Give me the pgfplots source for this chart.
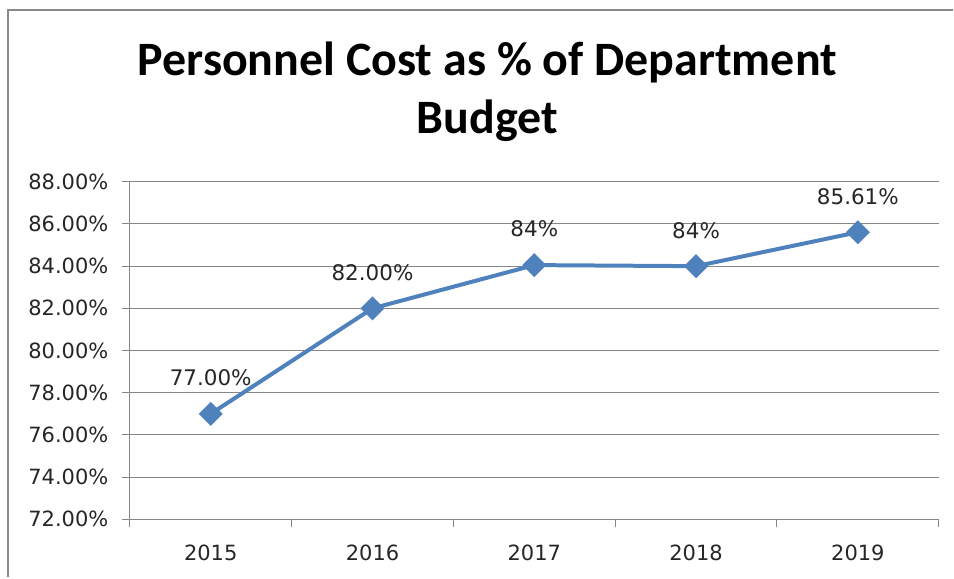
\documentclass[border=0pt]{standalone}
\usepackage{pgfplots}
\pgfplotsset{compat=1.18}
\usepackage{fontspec}
\setmainfont{DejaVu Sans}
\newfontfamily\titlefont{Carlito}
\definecolor{lineblue}{HTML}{4F81BD}
\definecolor{gridgray}{HTML}{868686}
\definecolor{framegray}{HTML}{898989}

\begin{document}
\begin{tikzpicture}[x=1pt,y=1pt]
% page area, top left at (0,0)
\path (0,0) rectangle (954,-578);
\draw[framegray, line width=2.5pt] (8,-578) -- (8,-10) -- (954,-10);

\node[align=center, font=\titlefont\bfseries\fontsize{48}{58}\selectfont]
  at (488,-92) {Personnel Cost as \% of Department\\Budget};

\begin{axis}[
    at={(130pt,-520pt)}, anchor=south west,
    scale only axis,
    width=810pt, height=338pt,
    xmin=-0.5, xmax=4.5,
    ymin=72, ymax=88,
    xtick={0,1,2,3,4},
    xticklabels={2015,2016,2017,2018,2019},
    minor xtick={-0.5,0.5,1.5,2.5,3.5,4.5},
    ytick={72,74,...,88},
    yticklabels={72.00\%,74.00\%,76.00\%,78.00\%,80.00\%,82.00\%,84.00\%,86.00\%,88.00\%},
    tick align=outside,
    major tick length=8pt,
    minor tick length=8pt,
    xtick style={draw=none},
    minor x tick style={draw=gridgray, line width=1pt},
    ytick style={draw=gridgray, line width=1pt},
    ymajorgrids,
    major grid style={gridgray, line width=1pt},
    axis x line*=bottom,
    axis y line*=left,
    axis line style={gridgray, line width=1pt, -},
    tick label style={font=\fontsize{21}{25}\selectfont, text=black!85},
    xticklabel style={yshift=-14pt},
    yticklabel style={xshift=-10pt},
    clip=false,
    nodes near coords,
    point meta=explicit symbolic,
    every node near coord/.append style={anchor=center, yshift=36pt,
        font=\fontsize{21.5}{25}\selectfont, text=black!85},
]
\addplot[color=lineblue, line width=4pt, mark=square*,
    mark options={rotate=45, mark size=6.5pt, solid, fill=lineblue}]
  table[meta=label] {
    x y label
    0 77.00 77.00\%
    1 82.00 82.00\%
    2 84.05 84\%
    3 84.00 84\%
    4 85.61 85.61\%
  };
\end{axis}
\end{tikzpicture}
\end{document}
